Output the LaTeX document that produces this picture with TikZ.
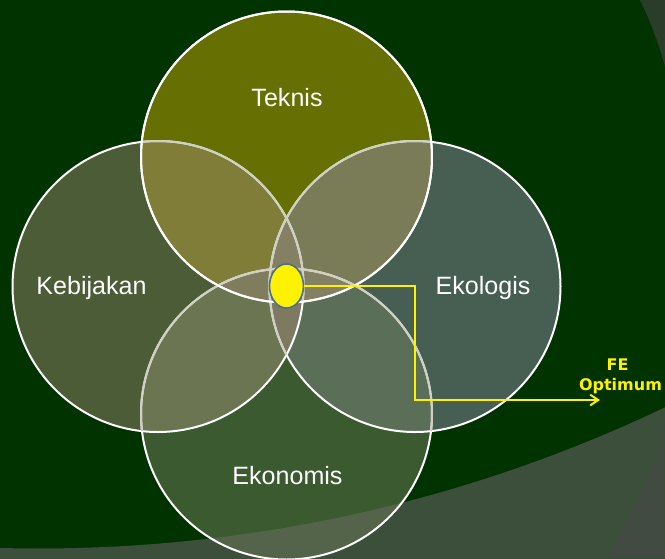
\documentclass[tikz,border=0pt]{standalone}
\usepackage{fontspec}
\setmainfont{Liberation Sans}
\newfontfamily\dvs{DejaVu Sans}
\usetikzlibrary{arrows.meta,shapes.geometric}
\definecolor{bg}{HTML}{003300}
\definecolor{band}{HTML}{3B4F3A}
\definecolor{corner}{HTML}{414B41}
\definecolor{trc}{HTML}{2A3D2A}
\definecolor{cT}{HTML}{656F02}
\definecolor{cL}{HTML}{4B5C37}
\definecolor{cR}{HTML}{475E53}
\definecolor{cB}{HTML}{3B5A2F}
\definecolor{cBband}{HTML}{53644A}
\definecolor{cTL}{HTML}{807D38}
\definecolor{cTR}{HTML}{7A7C57}
\definecolor{cLB}{HTML}{6C7552}
\definecolor{cRB}{HTML}{5B6F58}
\definecolor{cTLR}{HTML}{858063}
\definecolor{cBLR}{HTML}{7E7A62}
\definecolor{cTBL}{HTML}{807C5E}
\definecolor{cTBR}{HTML}{838063}
\definecolor{cQ}{HTML}{8A8468}
\definecolor{ringgray}{HTML}{CFCFC2}
\definecolor{elb}{HTML}{46708C}
\def\cTp{(286.5,157) circle[radius=109.125pt]}
\def\cBp{(286.5,414) circle[radius=109.125pt]}
\def\cLp{(158,286.5) circle[radius=109.125pt]}
\def\cRp{(415,286.5) circle[radius=109.125pt]}
\def\bandp{(-10,-10) rectangle (675,568) (38.75,-907.8) circle[radius=1092.2pt]}
\begin{document}
\begin{tikzpicture}[x=0.75pt,y=-0.75pt,
  ring/.style={draw=white,line width=1.5pt},
  ringg/.style={draw=ringgray,line width=1.5pt},
  lab/.style={text=white,font=\fontsize{18.8}{22}\selectfont,inner sep=0pt,anchor=base},
  fetext/.style={text=yellow,font=\dvs\bfseries\fontsize{12}{14}\selectfont,inner sep=0pt,anchor=base},
  conn/.style={draw=yellow,line width=1.5pt,-{Straight Barb[length=6pt,width=8pt]}}]
\fill[bg] (0,0) rectangle (665,558);
\useasboundingbox (0,0) rectangle (665,558);
\begin{scope}
\clip (0,0) rectangle (665,558);
% background decoration
\fill[band,even odd rule] \bandp;
\fill[corner] (665,423) .. controls (655,468) and (635,515) .. (605,558) -- (665,558) -- cycle;
\fill[trc] (640,0) .. controls (650,20) and (658,42) .. (665,66) -- (665,0) -- cycle;
% circle bases
\fill[cB] \cBp;
\fill[cR] \cRp;
\fill[cL] \cLp;
\fill[cT] \cTp;
\begin{scope}\clip \cBp; \fill[cBband,even odd rule] \bandp; \end{scope}
% pair overlaps
\begin{scope}\clip \cTp; \fill[cTL] \cLp; \fill[cTR] \cRp; \end{scope}
\begin{scope}\clip \cBp; \fill[cLB] \cLp; \fill[cRB] \cRp; \end{scope}
% triple overlaps
\begin{scope}\clip \cTp; \clip \cLp; \fill[cTLR] \cRp; \end{scope}
\begin{scope}\clip \cBp; \clip \cLp; \fill[cBLR] \cRp; \end{scope}
\begin{scope}\clip \cTp; \clip \cBp; \fill[cTBL] \cLp; \fill[cTBR] \cRp; \end{scope}
\begin{scope}\clip \cTp; \clip \cBp; \clip \cLp; \fill[cQ] \cRp; \end{scope}
% outlines
\path[ring] \cBp; \path[ring] \cRp; \path[ring] \cLp; \path[ring] \cTp;
\begin{scope}\clip \cTp; \path[ringg] \cBp; \path[ringg] \cRp; \path[ringg] \cLp; \end{scope}
\begin{scope}\clip \cLp; \path[ringg] \cBp; \path[ringg] \cRp; \end{scope}
\begin{scope}\clip \cRp; \path[ringg] \cBp; \end{scope}
\path[ring] \cTp;
\end{scope}
% labels
\node[lab] (teknis) at (287,106) {Teknis};
\node[lab] (kebijakan) at (91.5,294.3) {Kebijakan};
\node[lab] (ekologis) at (483,294.3) {Ekologis};
\node[lab] (ekonomis) at (287.5,484) {Ekonomis};
% optimum point and connector
\node[ellipse,fill=yellow,draw=elb,line width=1.2pt,minimum width=25.5pt,minimum height=33pt,inner sep=0pt] (opt) at (286.5,286) {};
\coordinate (k1) at (415,286);
\coordinate (k2) at (415,400);
\coordinate (tip) at (600,400);
\draw[conn] (opt.east) -- (k1) -- (k2) -- (tip);
\node[fetext] (fe) at (617.5,370.5) {FE};
\node[fetext] (optimum) at (620.5,390.5) {Optimum};
\end{tikzpicture}
\end{document}
